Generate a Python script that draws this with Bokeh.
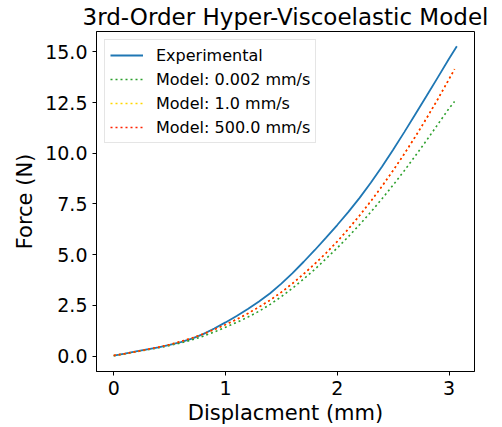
from bokeh.plotting import figure
from bokeh.models import Range1d, FixedTicker, PrintfTickFormatter, Legend, LegendItem
from bokeh.embed import file_html
from bokeh.resources import INLINE

# Experimental data
exp_x = [0.0, 0.1, 0.2, 0.3, 0.4, 0.5, 0.6, 0.7, 0.8, 0.9, 1.0, 1.1, 1.2, 1.3, 1.4, 1.5,
         1.6, 1.7, 1.8, 1.9, 2.0, 2.1, 2.2, 2.3, 2.4, 2.5, 2.6, 2.7, 2.8, 2.9, 3.0, 3.07]
exp_y = [0.02, 0.12, 0.23, 0.33, 0.43, 0.55, 0.69, 0.86, 1.08, 1.36, 1.66, 1.98, 2.32, 2.69,
         3.10, 3.57, 4.09, 4.65, 5.23, 5.84, 6.46, 7.11, 7.80, 8.54, 9.33, 10.17, 11.04,
         11.93, 12.83, 13.74, 14.66, 15.27]

# Model curves
mod_x = [0.0, 0.1, 0.2, 0.3, 0.4, 0.5, 0.6, 0.7, 0.8, 0.9, 1.0, 1.1, 1.2, 1.3, 1.4, 1.5,
         1.6, 1.7, 1.8, 1.9, 2.0, 2.1, 2.2, 2.3, 2.4, 2.5, 2.6, 2.7, 2.8, 2.9, 3.0, 3.05]
m002_y = [0.02, 0.11, 0.21, 0.31, 0.41, 0.52, 0.65, 0.80, 0.98, 1.19, 1.42, 1.66, 1.92,
          2.21, 2.55, 2.93, 3.35, 3.80, 4.28, 4.80, 5.33, 5.89, 6.48, 7.10, 7.75, 8.43,
          9.14, 9.88, 10.64, 11.42, 12.21, 12.55]
m1_y = [0.03, 0.12, 0.22, 0.33, 0.44, 0.57, 0.72, 0.89, 1.09, 1.31, 1.55, 1.81, 2.10,
        2.42, 2.76, 3.15, 3.58, 4.05, 4.55, 5.08, 5.65, 6.27, 6.93, 7.63, 8.37, 9.15,
        9.97, 10.83, 11.73, 12.67, 13.65, 14.15]
m500_y = [0.03, 0.12, 0.22, 0.33, 0.44, 0.57, 0.72, 0.89, 1.09, 1.31, 1.55, 1.81, 2.10,
          2.42, 2.76, 3.15, 3.58, 4.05, 4.55, 5.08, 5.65, 6.27, 6.93, 7.63, 8.37, 9.15,
          9.97, 10.83, 11.73, 12.67, 13.65, 14.15]

x_ticks = [0, 1, 2, 3]
y_ticks = [0.0, 2.5, 5.0, 7.5, 10.0, 12.5, 15.0]

FONT = "DejaVu Sans"

p = figure(width=502, height=427, output_backend="svg", toolbar_location=None,
           x_range=Range1d(-0.154, 3.228), y_range=Range1d(-0.76, 16.0),
           min_border_left=96, min_border_right=28, min_border_top=0, min_border_bottom=0)

p.title.text = "3rd-Order Hyper-Viscoelastic Model"
p.title.text_font = FONT
p.title.text_font_size = "23px"
p.title.text_font_style = "normal"
p.title.align = "center"
p.title.text_color = "black"
p.title.standoff = 3

p.grid.visible = False
p.outline_line_color = "black"
p.outline_line_width = 1

for ax in (p.xaxis[0], p.yaxis[0]):
    ax.major_label_text_font = FONT
    ax.major_label_text_font_size = "19px"
    ax.major_label_text_color = "black"
    ax.axis_label_text_font = FONT
    ax.axis_label_text_font_size = "21px"
    ax.axis_label_text_font_style = "normal"
    ax.axis_label_text_color = "black"
    ax.minor_tick_line_color = None
    ax.major_tick_in = 0
    ax.major_tick_out = 4
    ax.axis_line_color = "black"

p.xaxis.axis_label = "Displacment (mm)"
p.yaxis.axis_label = "Force (N)"
p.xaxis.ticker = FixedTicker(ticks=x_ticks)
p.yaxis.ticker = FixedTicker(ticks=y_ticks)
p.yaxis.formatter = PrintfTickFormatter(format="%.1f")
p.xaxis.major_label_standoff = 5
p.xaxis.axis_label_standoff = 3
p.yaxis.major_label_standoff = 5
p.yaxis.axis_label_standoff = 5

r_exp = p.line(exp_x, exp_y, line_color="#1f77b4", line_width=1.8)
r_002 = p.line(mod_x, m002_y, line_color="#2ca02c", line_width=1.6, line_dash="2 3")
r_1 = p.line(mod_x, m1_y, line_color="#ffd700", line_width=1.6, line_dash="2 3")
r_500 = p.line(mod_x, m500_y, line_color="#ff2200", line_width=1.6, line_dash="2 3")

legend = Legend(items=[
    LegendItem(label="Experimental", renderers=[r_exp]),
    LegendItem(label="Model: 0.002 mm/s", renderers=[r_002]),
    LegendItem(label="Model: 1.0 mm/s", renderers=[r_1]),
    LegendItem(label="Model: 500.0 mm/s", renderers=[r_500]),
], location="top_left")
legend.label_text_font = FONT
legend.label_text_font_size = "16px"
legend.label_text_color = "black"
legend.glyph_width = 33
legend.glyph_height = 20
legend.label_height = 20
legend.spacing = 4
legend.padding = 5
legend.margin = 8
legend.label_standoff = 13
legend.border_line_color = "#cccccc"
legend.border_line_width = 1
legend.background_fill_alpha = 0.8
p.add_layout(legend, "center")

open("out.html", "w").write(file_html(p, INLINE))
